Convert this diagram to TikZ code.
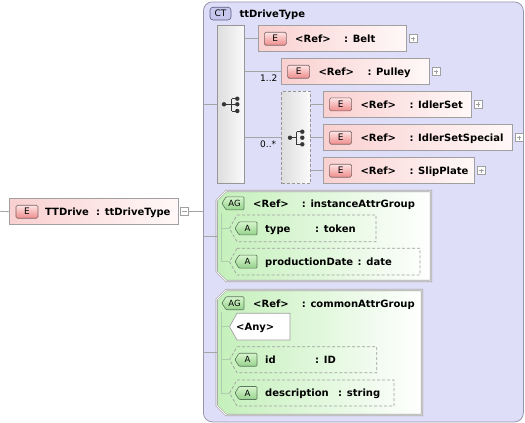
\documentclass[tikz,border=0pt]{standalone}
\usepackage{fontspec}
\setmainfont{DejaVu Sans}
\usetikzlibrary{calc}
\definecolor{lineC}{RGB}{165,165,165}
\definecolor{boxB}{RGB}{160,160,160}
\definecolor{eL}{RGB}{250,208,208}
\definecolor{eR}{RGB}{255,248,248}
\definecolor{ebT}{RGB}{255,228,228}
\definecolor{ebB}{RGB}{238,140,140}
\definecolor{ebD}{RGB}{120,100,100}
\definecolor{agL}{RGB}{196,240,186}
\definecolor{abT}{RGB}{215,245,205}
\definecolor{abB}{RGB}{150,210,140}
\definecolor{abD}{RGB}{90,120,90}
\definecolor{ctFill}{RGB}{222,222,248}
\definecolor{ctB}{RGB}{150,150,170}
\definecolor{ctBadge}{RGB}{200,200,238}
\definecolor{ctBadgeD}{RGB}{90,90,130}
\definecolor{seqL}{RGB}{222,222,222}
\definecolor{seqR}{RGB}{250,250,250}
\definecolor{seqB}{RGB}{150,150,150}
\definecolor{iconC}{RGB}{55,55,55}
\definecolor{agLine}{RGB}{175,205,175}
\tikzset{
  x=1pt, y=-1pt,
  conn/.style={draw=lineC, line width=0.8pt},
  ebox/.style={draw=boxB, line width=0.8pt, left color=eL, right color=eR, inner sep=0, minimum height=26pt, anchor=north west},
  ebadge/.style={draw=ebD, line width=0.6pt, rounded corners=1.5pt, top color=ebT, bottom color=ebB, inner sep=0, minimum width=22pt, minimum height=13pt, font=\fontsize{9}{9}\selectfont, anchor=west},
  lbl/.style={font=\fontsize{10}{12}\selectfont\bfseries, inner sep=0, anchor=base west},
  card/.style={font=\fontsize{9}{10}\selectfont, inner sep=0, anchor=base west},
  badgetxt/.style={font=\fontsize{8.5}{9}\selectfont, inner sep=0},
  expbox/.style={draw=boxB, fill=white, minimum size=8pt, inner sep=0, anchor=west, line width=0.6pt},
  plus/.style={path picture={\draw[boxB, line width=0.6pt]
      ([xshift=1.8pt]path picture bounding box.west) -- ([xshift=-1.8pt]path picture bounding box.east)
      ([yshift=-1.8pt]path picture bounding box.north) -- ([yshift=1.8pt]path picture bounding box.south);}},
  minus/.style={path picture={\draw[boxB, line width=0.6pt]
      ([xshift=1.8pt]path picture bounding box.west) -- ([xshift=-1.8pt]path picture bounding box.east);}},
  compbox/.style={draw=seqB, line width=0.7pt, left color=seqL, right color=seqR, inner sep=0, anchor=north west},
  agshape/.style={draw=boxB, double=white, double distance=0.9pt, line width=0.6pt, left color=agL, right color=white},
  abadge/.style={draw=abD, line width=0.6pt, top color=abT, bottom color=abB, rounded corners=1pt},
  attrbox/.style={draw=boxB, dashed, dash pattern=on 3pt off 2pt, line width=0.7pt},
}
% element reference box
\newcommand\Elem[5]{%
  \node[ebox, minimum width=#4pt] (#1) at (#2,#3) {};
  \node[ebadge] (#1-b) at ([xshift=6pt]#1.west) {E};
  \node[lbl] (#1-r) at ([xshift=37pt,yshift=-3.8pt]#1.west) {<Ref>};
  \node[lbl] (#1-n) at ([xshift=86pt,yshift=-3.8pt]#1.west) {: #5};
  \node[expbox, plus] (#1-x) at ([xshift=2pt]#1.east) {};
}
% A badge: name, x, center y, text
\newcommand\Abadge[4]{%
  \path[abadge] ({#2+4},{#3-6.5}) -- ({#2+22},{#3-6.5}) -- ({#2+22},{#3+6.5}) -- ({#2+4},{#3+6.5}) -- (#2,#3) -- cycle;
  \node[badgetxt] (#1) at ({#2+12.5},#3) {#4};
}
% attribute: name, top, bottom, right, label, type, typex
\newcommand\Attr[7]{%
  \pgfmathsetmacro\attrmid{(#2+#3)/2}%
  \pgfmathsetmacro\attrbase{(#2+#3)/2+3.8}%
  \draw[attrbox] (237,#2) -- (#4,#2) -- (#4,#3) -- (237,#3) -- (229.5,\attrmid) -- cycle;
  \coordinate (#1) at (229.5,\attrmid);
  \Abadge{#1-b}{235}{\attrmid}{A}
  \node[lbl] (#1-n) at (265,\attrbase) {#5};
  \node[lbl] (#1-t) at (#7,\attrbase) {: #6};
}
\begin{document}
\begin{tikzpicture}
\useasboundingbox (0,0) rectangle (525,423);
\fill[white] (0,0) rectangle (525,423);

% complex type container
\node[draw=ctB, line width=0.8pt, rounded corners=9pt, fill=ctFill, minimum width=320pt, minimum height=420pt, anchor=north west, inner sep=0] (ct) at (203,1.5) {};
\node[draw=ctBadgeD, line width=0.6pt, rounded corners=3pt, fill=ctBadge, minimum width=21pt, minimum height=12.7pt, inner sep=0, font=\fontsize{9}{9}\selectfont] (ctb) at (220.5,13.6) {CT};
\node[lbl] (ctname) at (239.3,17.4) {ttDriveType};

% root element
\coordinate (start) at (0,211.3);
\node[ebox, minimum width=168.4pt] (tt) at (9.3,198.3) {};
\node[ebadge] (tt-b) at ([xshift=6.4pt]tt.west) {E};
\node[lbl] (tt-n) at ([xshift=35.7pt,yshift=-3.8pt]tt.west) {TTDrive};
\node[lbl] (tt-t) at ([xshift=86.7pt,yshift=-3.8pt]tt.west) {: ttDriveType};
\node[expbox, minus] (tt-x) at ([xshift=1.5pt]tt.east) {};
\draw[conn] (start) -- (tt.west);
\draw[conn] (tt-x.east) -- (tt-x.east -| ct.west);

% sequence
\node[compbox, minimum width=27.6pt, minimum height=158pt] (seq) at (216.7,25.3) {};
\draw[conn] (ct.west |- 0,104.3) -- (seq.west |- 0,104.3);
\begin{scope}[iconC, line width=1pt]
  \draw (224,104.3) -- (231.7,104.3) (231.7,98.7) -- (231.7,111)
        (231.7,98.7) -- (237.3,98.7) (231.7,111) -- (237.3,111) (231.7,104.3) -- (237.3,104.3);
  \fill (224,104.3) circle (2.2) (237.3,98.7) circle (2.2) (237.3,104.3) circle (2.2) (237.3,111) circle (2.2);
\end{scope}

% elements in the sequence
\Elem{belt}{258}{25.3}{147.7}{Belt}
\Elem{pul}{281.3}{58.3}{147.4}{Pulley}
\node[compbox, dashed, dash pattern=on 3pt off 2pt, minimum width=28.4pt, minimum height=92.3pt] (cho) at (281.3,91) {};
\begin{scope}[iconC, line width=1pt]
  \draw (290,137.7) -- (296.7,137.7) (296.7,131.7) -- (296.7,144.3) -- (302.3,144.3)
        (296.7,131.7) -- (302.3,131.7);
  \fill (290,137.7) circle (2.2) (302.3,131.7) circle (2.2) (302.3,137.7) circle (2.2) (302.3,144.3) circle (2.2);
\end{scope}
\Elem{idl}{323.3}{91}{147.4}{IdlerSet}
\Elem{ids}{323.3}{124.3}{188.4}{IdlerSetSpecial}
\Elem{slp}{323.3}{157.3}{151}{SlipPlate}

\draw[conn] (belt.west -| seq.east) -- (belt.west);
\draw[conn] (pul.west -| seq.east) -- (pul.west);
\draw[conn] (cho.west -| seq.east) -- (cho.west);
\draw[conn] (idl.west -| cho.east) -- (idl.west);
\draw[conn] (ids.west -| cho.east) -- (ids.west);
\draw[conn] (slp.west -| cho.east) -- (slp.west);
\node[card] (c12) at (260,81.7) {1..2};
\node[card] (c0s) at (260,147.7) {0..*};

% attribute group 1
\path[agshape] (226,191) -- (431,191) -- (431,281) -- (226,281) -- (216.7,271.7) -- (216.7,200.3) -- cycle;
\coordinate (ag1) at (216.7,236);
\draw[conn] (ag1 -| ct.west) -- (ag1);
\Abadge{ag1-b}{222}{203.3}{AG}
\node[lbl] (ag1-r) at (253,207.1) {<Ref>};
\node[lbl] (ag1-n) at (301.7,207.1) {: instanceAttrGroup};
\draw[agLine, line width=0.8pt] (221,213) -- (221,261.7);
\Attr{type}{215}{241.7}{376}{type}{token}{315}
\Attr{pdate}{248.3}{275}{420}{productionDate}{date}{357.5}
\draw[agLine, line width=0.8pt] (type -| 221,0) -- (type);
\draw[agLine, line width=0.8pt] (pdate -| 221,0) -- (pdate);

% attribute group 2
\path[agshape] (226,290) -- (422,290) -- (422,415) -- (226,415) -- (216.7,405.7) -- (216.7,299.3) -- cycle;
\coordinate (ag2) at (216.7,352.5);
\draw[conn] (ag2 -| ct.west) -- (ag2);
\Abadge{ag2-b}{222}{303.2}{AG}
\node[lbl] (ag2-r) at (253,307) {<Ref>};
\node[lbl] (ag2-n) at (301.7,307) {: commonAttrGroup};
\draw[agLine, line width=0.8pt] (221,312) -- (221,393);
\draw[draw=boxB, fill=white, line width=0.7pt] (237,313.3) -- (290,313.3) -- (290,340) -- (237,340) -- (229.5,326.7) -- cycle;
\coordinate (any) at (229.5,326.7);
\node[lbl] (any-n) at (236,330.5) {<Any>};
\Attr{id}{346.7}{372.7}{376.7}{id}{ID}{315}
\Attr{desc}{380}{406}{394}{description}{string}{338}
\draw[agLine, line width=0.8pt] (any -| 221,0) -- (any);
\draw[agLine, line width=0.8pt] (id -| 221,0) -- (id);
\draw[agLine, line width=0.8pt] (desc -| 221,0) -- (desc);
\end{tikzpicture}
\end{document}
